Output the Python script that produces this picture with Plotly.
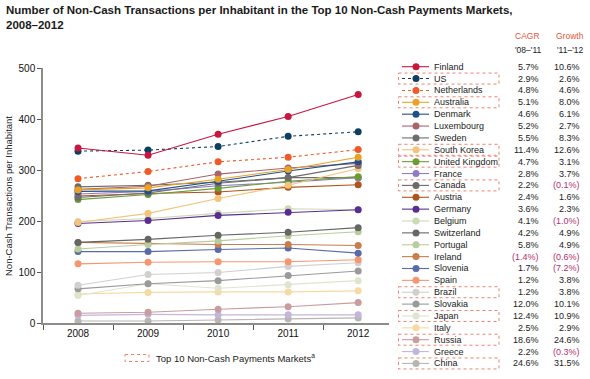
import plotly.graph_objects as go

years = [2008, 2009, 2010, 2011, 2012]

countries = ["Finland", "US", "Netherlands", "Australia", "Denmark", "Luxembourg", "Sweden",
             "South Korea", "United Kingdom", "France", "Canada", "Austria", "Germany", "Belgium",
             "Switzerland", "Portugal", "Ireland", "Slovenia", "Spain", "Brazil", "Slovakia",
             "Japan", "Italy", "Russia", "Greece", "China"]

finland = [343, 329, 370, 405, 448]
us = [337, 339, 346, 366, 375]
netherlands = [283, 297, 316, 325, 340]
australia = [261, 265, 282, 301, 325]
denmark = [258, 259, 278, 298, 316]
luxembourg = [262, 268, 292, 304, 313]
sweden = [246, 255, 274, 285, 309]
south_korea = [197, 215, 244, 270, 303]
united_kingdom = [242, 252, 264, 278, 287]
france = [253, 258, 269, 276, 285]
canada = [267, 270, 276, 285, 285]
austria = [249, 254, 257, 266, 271]
germany = [195, 201, 211, 217, 222]
belgium = [199, 205, 215, 224, 222]
switzerland = [158, 164, 172, 178, 187]
portugal = [145, 154, 161, 171, 179]
ireland = [158, 156, 154, 154, 152]
slovenia = [140, 140, 144, 147, 137]
spain = [116, 119, 120, 120, 124]
brazil = [74, 95, 99, 111, 118]
slovakia = [67, 77, 83, 93, 102]
japan = [54, 77, 68, 75, 83]
italy = [57, 60, 61, 61, 63]
russia = [19, 21, 27, 32, 40]
greece = [15, 17, 16, 16, 16]
china = [4, 4, 6, 8, 10]

series = [finland, us, netherlands, australia, denmark, luxembourg, sweden, south_korea,
          united_kingdom, france, canada, austria, germany, belgium, switzerland, portugal,
          ireland, slovenia, spain, brazil, slovakia, japan, italy, russia, greece, china]

cagr = ["5.7%", "2.9%", "4.8%", "5.1%", "4.6%", "5.2%", "5.5%", "11.4%", "4.7%", "2.8%", "2.2%",
        "2.4%", "3.6%", "4.1%", "4.2%", "5.8%", "(1.4%)", "1.7%", "1.2%", "1.2%", "12.0%",
        "12.4%", "2.5%", "18.6%", "2.2%", "24.6%"]
growth = ["10.6%", "2.6%", "4.6%", "8.0%", "6.1%", "2.7%", "8.3%", "12.6%", "3.1%", "3.7%",
          "(0.1%)", "1.6%", "2.3%", "(1.0%)", "4.9%", "4.9%", "(0.6%)", "(7.2%)", "3.8%", "3.8%",
          "10.1%", "10.9%", "2.9%", "24.6%", "(0.3%)", "31.5%"]
top10 = ["US", "Australia", "South Korea", "United Kingdom", "Canada", "Brazil", "Japan",
         "Russia", "China"]

colors = ["#c8163f", "#0f3f60", "#f05a28", "#e9a224", "#1f4f8a", "#a8646c", "#6d6d6d",
          "#f3c47a", "#6c9c34", "#8f7cc4", "#6a6c6a", "#b0541e", "#5a2e90", "#cbdab4",
          "#656765", "#b9cd9c", "#c97c4c", "#5b6ba8", "#f59670", "#d2d0ce", "#9a9a9a",
          "#dde6cd", "#f7d9a4", "#c99c9e", "#c3b6dc", "#b9b5b0"]
dashes = ["solid", "dot", "dot"] + ["solid"] * 23

# layout geometry (pixels)
W, H = 590, 379
L, R, T, B = 43, 389, 68, 323


def px(x):
    return (x - L) / (R - L)


def py(y):
    return (B - y) / (B - T)


fig = go.Figure()
for i in range(len(countries) - 1, -1, -1):
    fig.add_trace(go.Scatter(
        x=years, y=series[i], mode="lines+markers", name=countries[i],
        line=dict(color=colors[i], width=1.1, dash=dashes[i]),
        marker=dict(color=colors[i], size=7),
        showlegend=False, hoverinfo="x+y+name"))

shapes = []
annotations = []
font = "Liberation Sans, Arial, sans-serif"
row0, step = 66.7, 11.87
for i, c in enumerate(countries):
    yy = row0 + i * step
    shapes.append(dict(type="line", xref="paper", yref="paper", x0=px(402), x1=px(429),
                       y0=py(yy), y1=py(yy),
                       line=dict(color=colors[i], width=1.1, dash=dashes[i])))
    shapes.append(dict(type="circle", xref="paper", yref="paper", xsizemode="pixel",
                       ysizemode="pixel", xanchor=px(416), yanchor=py(yy),
                       x0=-3.5, x1=3.5, y0=-3.5, y1=3.5,
                       fillcolor=colors[i], line=dict(width=0)))
    if c in top10:
        shapes.append(dict(type="rect", xref="paper", yref="paper", x0=px(398.5), x1=px(499),
                           y0=py(yy - 5.5), y1=py(yy + 5.5),
                           line=dict(color="#f0826e", width=1, dash="dot")))
    annotations.append(dict(x=px(432), y=py(yy), xref="paper", yref="paper", text=c,
                            showarrow=False, xanchor="left", yanchor="middle",
                            font=dict(size=9, color="#222", family=font)))
    cc = "#b5306e" if cagr[i].startswith("(") else "#222"
    gc = "#b5306e" if growth[i].startswith("(") else "#222"
    annotations.append(dict(x=px(541), y=py(yy), xref="paper", yref="paper", text=cagr[i],
                            showarrow=False, xanchor="right", yanchor="middle",
                            font=dict(size=9, color=cc, family=font)))
    annotations.append(dict(x=px(582), y=py(yy), xref="paper", yref="paper", text=growth[i],
                            showarrow=False, xanchor="right", yanchor="middle",
                            font=dict(size=9, color=gc, family=font)))

for txt, xr, yy, col in [("CAGR", 542, 36, "#e8553a"), ("Growth", 586, 36, "#e8553a"),
                         ("'08–'11", 544, 50, "#222"), ("'11–'12", 586, 50, "#222")]:
    annotations.append(dict(x=px(xr), y=py(yy), xref="paper", yref="paper", text=txt,
                            showarrow=False, xanchor="right", yanchor="middle",
                            font=dict(size=8.5, color=col, family=font)))

# footnote legend
shapes.append(dict(type="rect", xref="paper", yref="paper", x0=px(125), x1=px(149),
                   y0=py(354.5), y1=py(361.5), line=dict(color="#f0826e", width=1, dash="dot")))
annotations.append(dict(x=px(154), y=py(358), xref="paper", yref="paper",
                        text="Top 10 Non-Cash Payments Markets<sup>a</sup>",
                        showarrow=False, xanchor="left", yanchor="middle",
                        font=dict(size=9.5, color="#222", family=font)))

# y-axis title
annotations.append(dict(x=px(8), y=py(196), xref="paper", yref="paper",
                        text="Non-Cash Transactions per Inhabitant", textangle=-90,
                        showarrow=False, xanchor="center", yanchor="middle",
                        font=dict(size=9.5, color="#222", family=font)))

# chart title
annotations.append(dict(x=px(4), y=py(2), xref="paper", yref="paper",
                        text="<b>Number of Non-Cash Transactions per Inhabitant in the Top 10 Non-Cash Payments Markets,<br>2008–2012</b>",
                        showarrow=False, xanchor="left", yanchor="top", align="left",
                        font=dict(size=11.5, color="#1a1a1a", family=font)))

fig.update_layout(
    width=W, height=H,
    margin=dict(l=L, r=W - R, t=T, b=H - B),
    paper_bgcolor="white", plot_bgcolor="white",
    shapes=shapes, annotations=annotations,
    xaxis=dict(range=[2007.5, 2012.44], tickvals=years, ticktext=[str(y) for y in years],
               ticks="", showgrid=False, zeroline=False, showline=True, linecolor="#8c8c8c",
               linewidth=1.5, tickfont=dict(size=10, color="#111", family=font),
               minor=dict(ticks="outside", tick0=2007.5, dtick=1, ticklen=5,
                          tickcolor="#555", showgrid=False)),
    yaxis=dict(range=[0, 500], tickvals=[0, 100, 200, 300, 400, 500], ticks="outside",
               ticklen=4, tickcolor="#555", showgrid=False, zeroline=False, showline=True,
               linecolor="#8c8c8c", linewidth=1.5,
               tickfont=dict(size=10, color="#111", family=font)),
)

fig.write_html("out.html", config={"displayModeBar": False},
               post_script="document.body.style.margin='0px';")
